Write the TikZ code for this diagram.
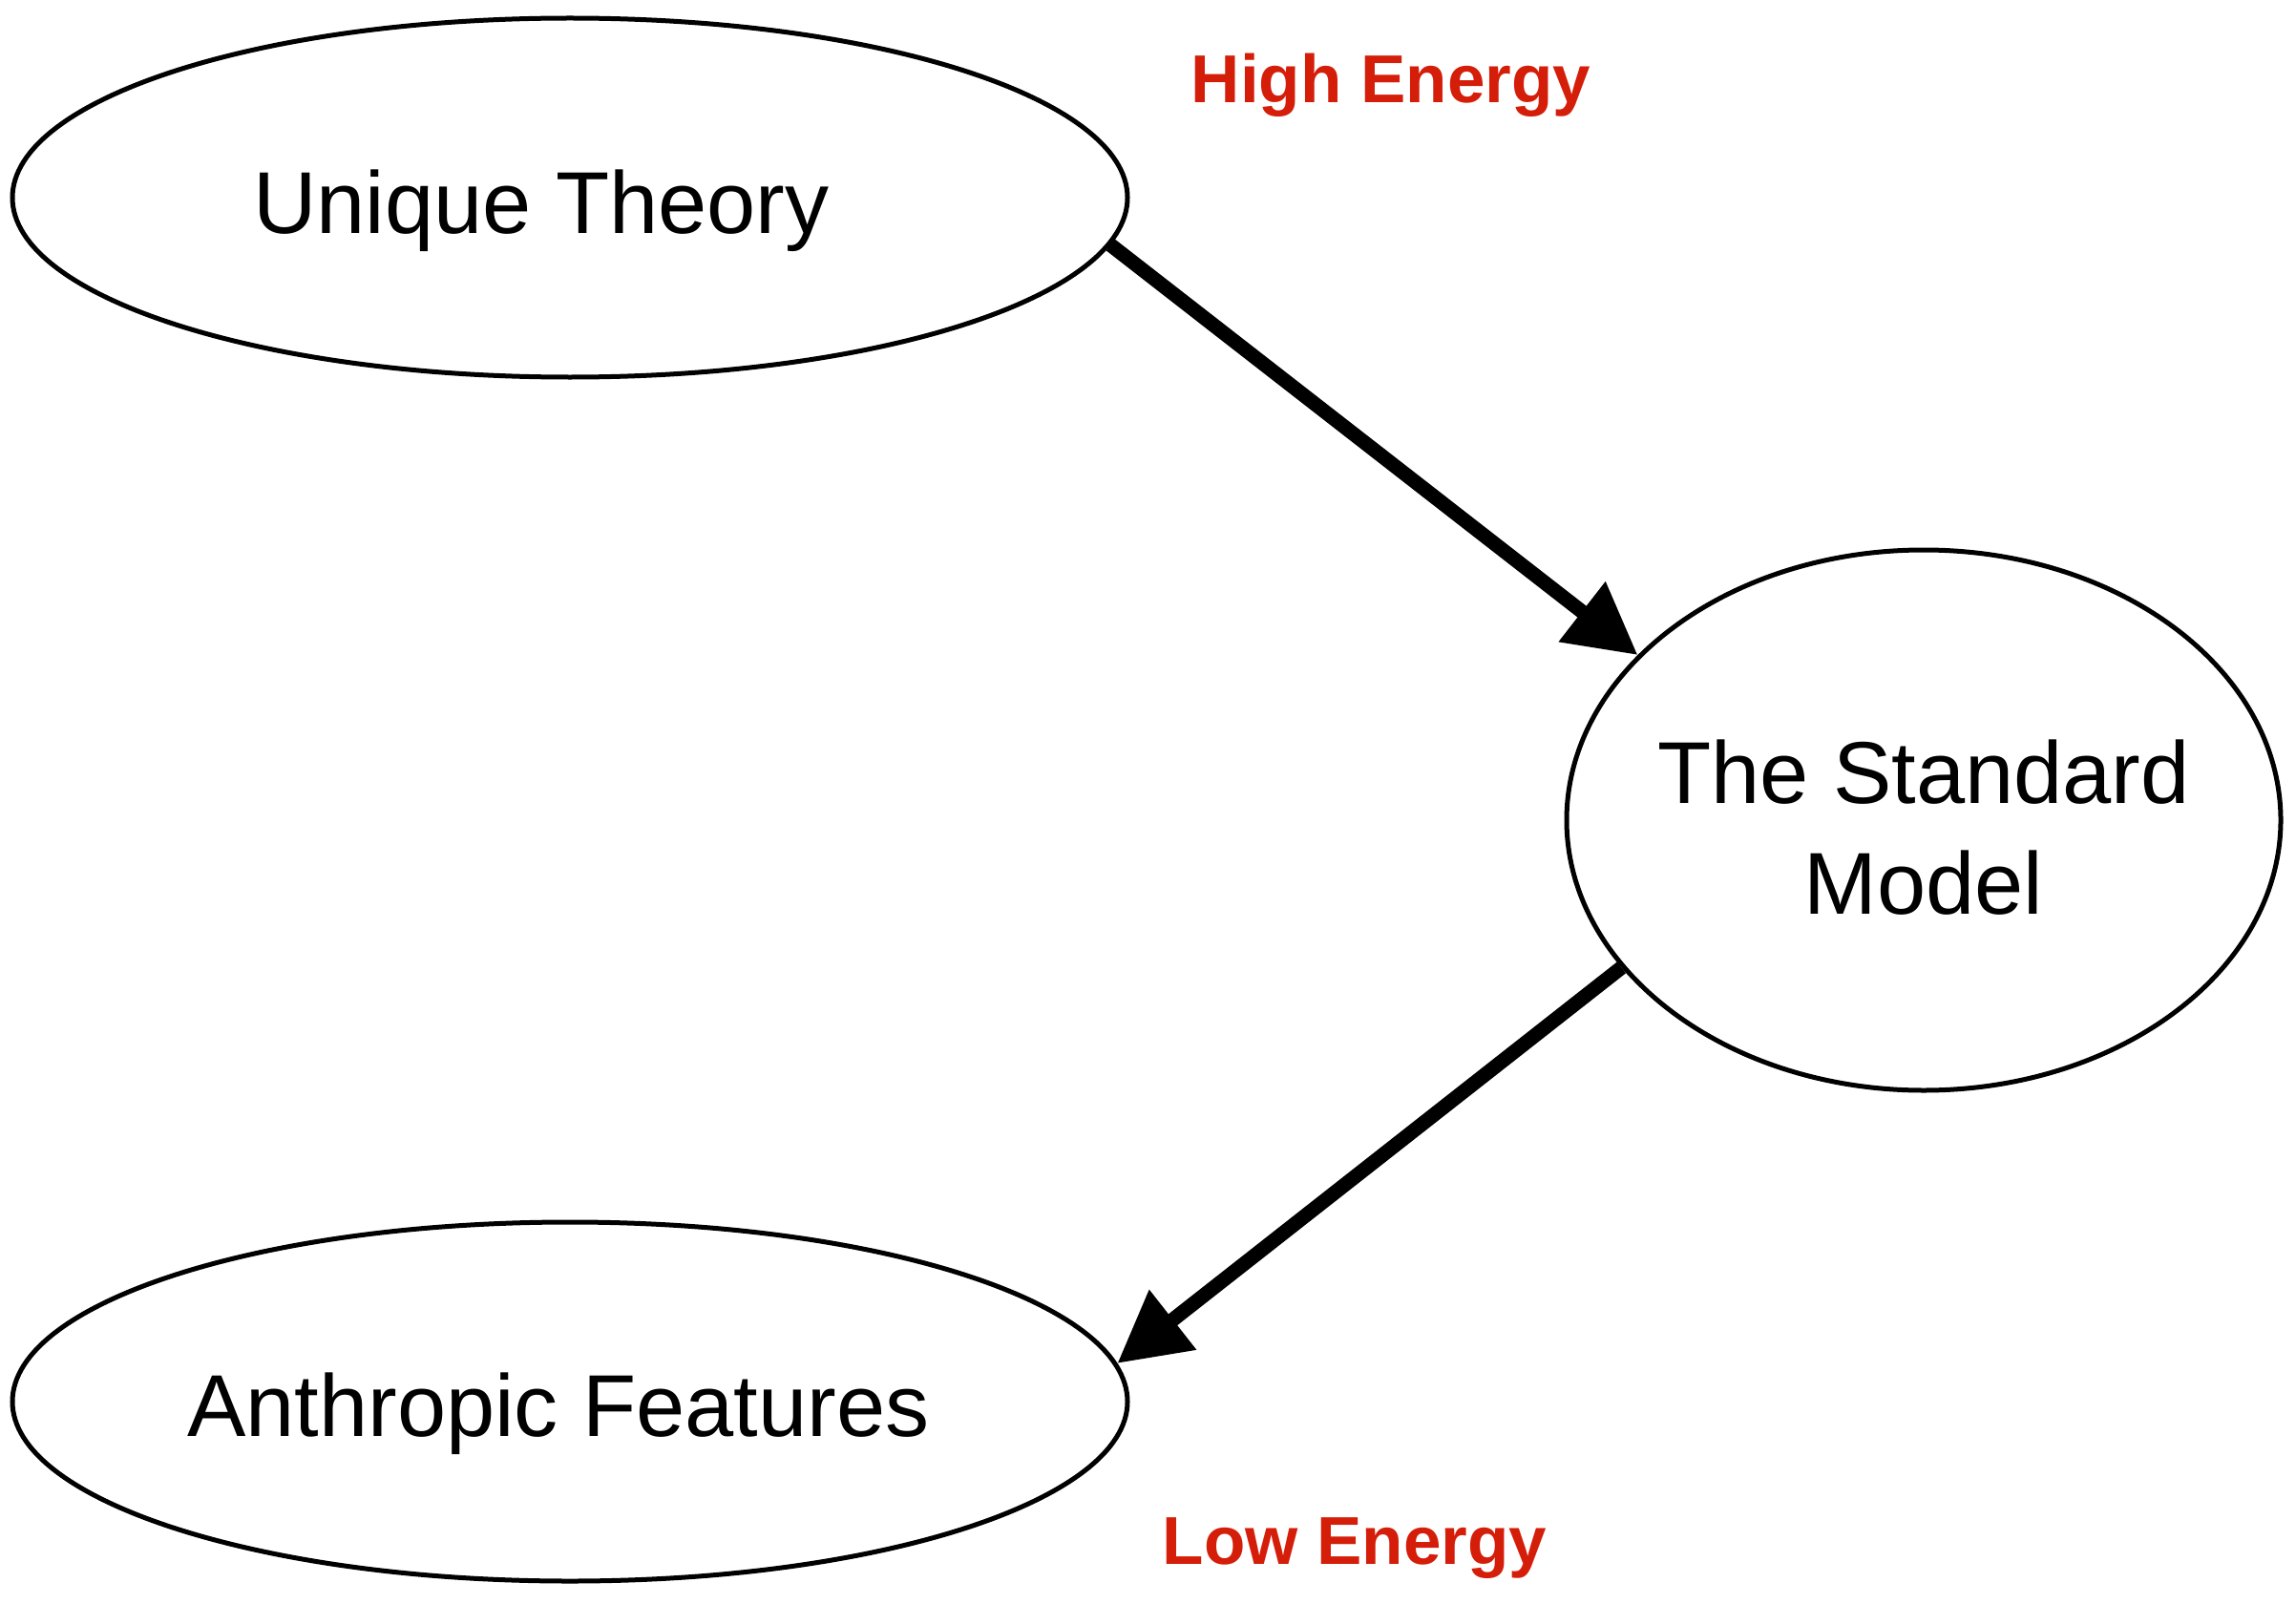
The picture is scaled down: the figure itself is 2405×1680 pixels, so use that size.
\documentclass[tikz,border=0pt]{standalone}
\usepackage{fontspec}
\setmainfont{Liberation Sans}
\usetikzlibrary{shapes.geometric,arrows.meta}
\definecolor{hired}{RGB}{212,30,10}
\newcommand{\placetext}[3]{\makebox[0pt]{\hspace*{#1}\raisebox{#2}[0pt][0pt]{#3}}}
\tikzset{
  oval/.style={ellipse, draw=black, line width=5pt, inner sep=0pt,
    font=\fontsize{92}{118}\selectfont},
  flow/.style={line width=15pt, -{Triangle[length=74pt,width=76pt]}},
  energy/.style={text=hired, font=\fontsize{71}{80}\selectfont\bfseries, anchor=base},
}
\begin{document}
\begin{tikzpicture}[x=1pt,y=-1pt]
\useasboundingbox (0,0) rectangle (2405,1680);
\node[oval, minimum width=1168pt, minimum height=376pt] (ut) at (597,207)
  {\placetext{-60pt}{-38pt}{Unique Theory}};
\node[oval, minimum width=748pt, minimum height=566pt] (sm) at (2015,859)
  {\placetext{0pt}{18pt}{The Standard}\placetext{0pt}{-98pt}{Model}};
\node[oval, minimum width=1168pt, minimum height=376pt] (af) at (597,1468)
  {\placetext{-24pt}{-36pt}{Anthropic Features}};
\node[energy] (he) at (1457,108) {High Energy};
\node[energy] (le) at (1419,1638) {Low Energy};
\draw[flow] (ut.-5.5) -- (sm.150.5);
\draw[flow] (sm.206.3) -- (af.4.1);
\end{tikzpicture}
\end{document}
